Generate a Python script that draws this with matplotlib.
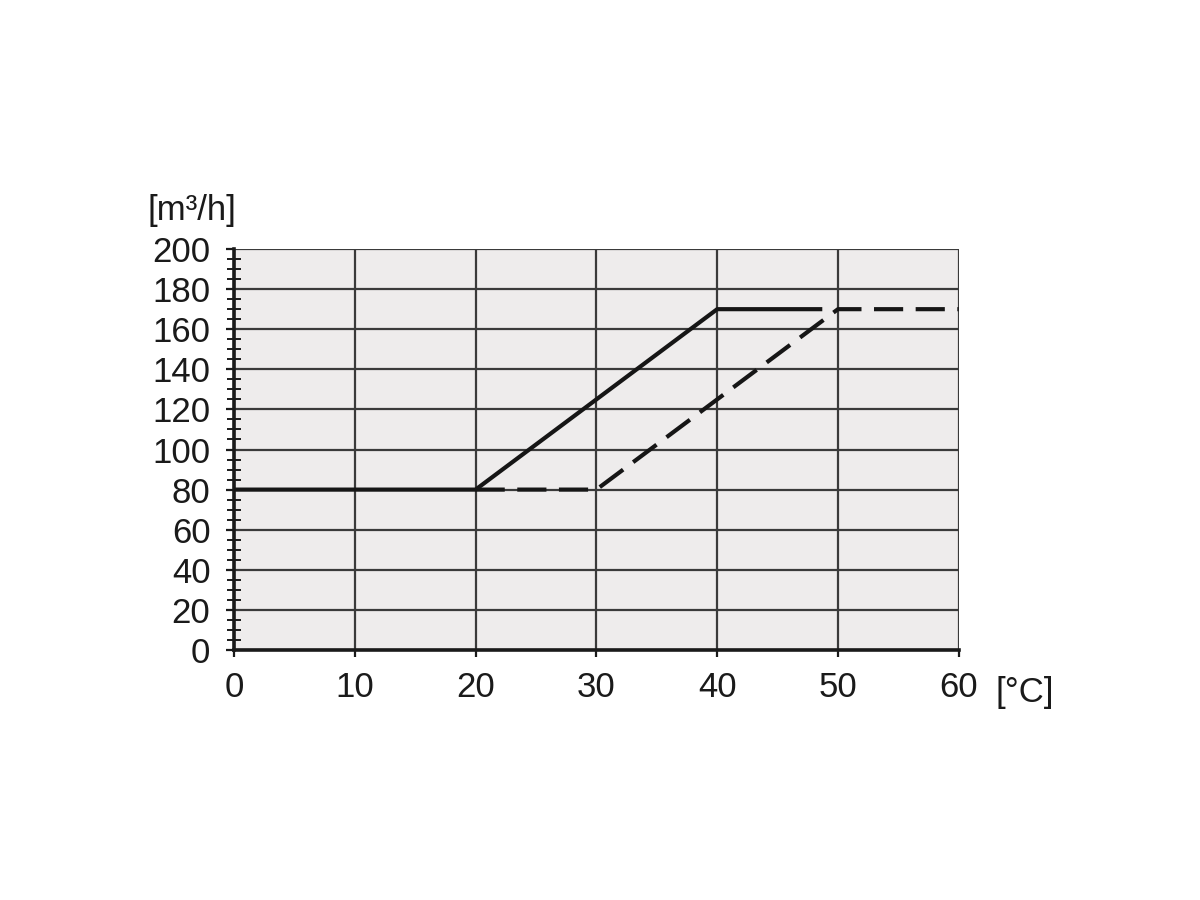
import matplotlib
matplotlib.use("Agg")
import matplotlib.pyplot as plt
from matplotlib.ticker import MultipleLocator

plt.rcParams['font.family'] = ['Liberation Sans', 'DejaVu Sans']

# Temperatur [°C] und Volumenstrom [m³/h]
temp_solid = [0, 20, 40, 48.7]
flow_solid = [80, 80, 170, 170]

temp_dashed = [20, 30, 50, 60]
flow_dashed = [80, 80, 170, 170]

x_ticks = [0, 10, 20, 30, 40, 50, 60]
y_ticks = [0, 20, 40, 60, 80, 100, 120, 140, 160, 180, 200]

fig = plt.figure(figsize=(12, 9), dpi=100)
ax = fig.add_axes([0.195, 0.2778, 0.604, 0.4455])
ax.set_facecolor("#eeecec")

ax.plot(temp_solid, flow_solid, color="#161616", lw=3.0, solid_capstyle="butt", zorder=3)
ax.plot(temp_dashed, flow_dashed, color="#161616", lw=3.0, linestyle=(0, (7, 3)),
        dash_capstyle="butt", zorder=3)

ax.set_xlim(0, 60)
ax.set_ylim(0, 200)
ax.set_xticks(x_ticks)
ax.set_yticks(y_ticks)
ax.yaxis.set_minor_locator(MultipleLocator(5))

ax.grid(True, color="#3a3a3a", lw=1.6, zorder=1)
ax.set_axisbelow(True)

for side in ["left", "bottom"]:
    ax.spines[side].set_linewidth(2.6)
    ax.spines[side].set_color("#1a1a1a")
for side in ["top", "right"]:
    ax.spines[side].set_visible(False)

ax.tick_params(axis="y", which="major", direction="out", length=6, width=1.6,
               color="#1a1a1a", labelsize=25, pad=11)
ax.tick_params(axis="y", which="minor", direction="inout", length=10, width=1.4,
               color="#1a1a1a")
ax.tick_params(axis="x", which="major", direction="out", length=5, width=1.6,
               color="#1a1a1a", labelsize=25, pad=10)
for lbl in ax.get_xticklabels() + ax.get_yticklabels():
    lbl.set_color("#1a1a1a")

ax.text(-0.12, 1.055, "[m³/h]", transform=ax.transAxes, fontsize=25,
        color="#1a1a1a", ha="left", va="bottom")
ax.text(1.05, -0.065, "[°C]", transform=ax.transAxes, fontsize=25,
        color="#1a1a1a", ha="left", va="top")

fig.savefig("out.png", dpi=100)
